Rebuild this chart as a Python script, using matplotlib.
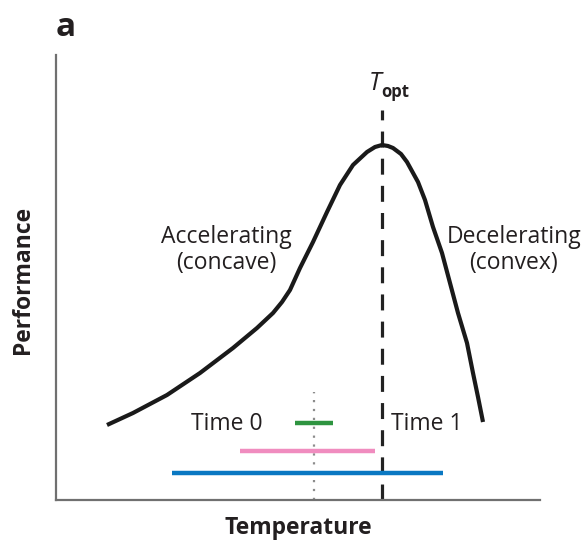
import numpy as np
import matplotlib
matplotlib.use("Agg")
import matplotlib.pyplot as plt

plt.rcParams['font.family'] = ['Open Sans', 'DejaVu Sans']

# thermal performance curve (temperature, performance)
curve_t = [51, 77, 111, 144, 177, 201, 217, 226, 234, 244, 257, 271, 284,
           297, 311, 319, 326, 332, 337, 345, 351, 362, 369, 377, 386, 394,
           402, 411, 417, 422, 427]
curve_p = [75, 87, 105, 127, 152, 172, 187, 198, 210, 232, 258, 288, 315,
           335, 348, 353, 355, 354, 352, 346, 338, 318, 300, 273, 247, 217,
           187, 157, 127, 103, 78]

t_opt = 326
t_mean0 = 258

# temperature ranges (start, end, performance level)
range_names = ["Time 0", "mid", "Time 1"]
range_start = [239, 184, 116]
range_end = [277, 319, 387]
range_level = [77, 49, 27]
range_colors = ["#2e9440", "#f08cbf", "#0a78c2"]

fig = plt.figure(figsize=(5.84, 5.40), dpi=100)
ax = fig.add_axes([56 / 584, 40 / 540, 484 / 584, 445 / 540])
ax.set_xlim(0, 484)
ax.set_ylim(0, 445)

for s in ["top", "right"]:
    ax.spines[s].set_visible(False)
for s in ["left", "bottom"]:
    ax.spines[s].set_color("#707070")
    ax.spines[s].set_linewidth(1.6)
ax.set_xticks([])
ax.set_yticks([])

# grey dotted line at mean temperature of time 0
ax.plot([t_mean0, t_mean0], [0, 108], color="#8c8c8c", lw=1.6,
        linestyle=(0, (1, 3)), zorder=1)
# T_opt dashed line
ax.plot([t_opt, t_opt], [0, 390], color="#222222", lw=2.3,
        linestyle=(0, (5, 3.5)), zorder=2)

for x0, x1, y, c in zip(range_start, range_end, range_level, range_colors):
    ax.plot([x0, x1], [y, y], color=c, lw=3.2, solid_capstyle="butt", zorder=3)

ax.plot(curve_t, curve_p, color="#1a1a1a", lw=3.0, solid_capstyle="butt",
        solid_joinstyle="round", zorder=4)

txt = dict(fontsize=16.5, color="#231f20", clip_on=False)
ax.text(170, 250, "Accelerating\n(concave)", ha="center", va="center",
        linespacing=1.1, **txt)
ax.text(458, 250, "Decelerating\n(convex)", ha="center", va="center",
        linespacing=1.1, **txt)
ax.text(171, 76, "Time 0", ha="center", va="center", **txt)
ax.text(371, 76, "Time 1", ha="center", va="center", **txt)

ax.text(t_opt - 1, 410, "T", ha="right", va="baseline", fontsize=18,
        style="italic", color="#231f20")
ax.text(t_opt - 1, 403, "opt", ha="left", va="baseline", fontsize=12,
        fontweight="bold", color="#231f20")

fig.text(23 / 584, 1 - 280 / 540, "Performance", rotation=90, ha="center",
         va="center", fontsize=16.5, fontweight="bold", color="#231f20")
fig.text(298 / 584, 1 - 528 / 540, "Temperature", ha="center", va="center",
         fontsize=16.5, fontweight="bold", color="#231f20")
fig.text(56 / 584, 1 - 28 / 540, "a", ha="left", va="center",
         fontsize=24, fontweight="bold", color="#231f20")

fig.savefig("out.png", dpi=100)
